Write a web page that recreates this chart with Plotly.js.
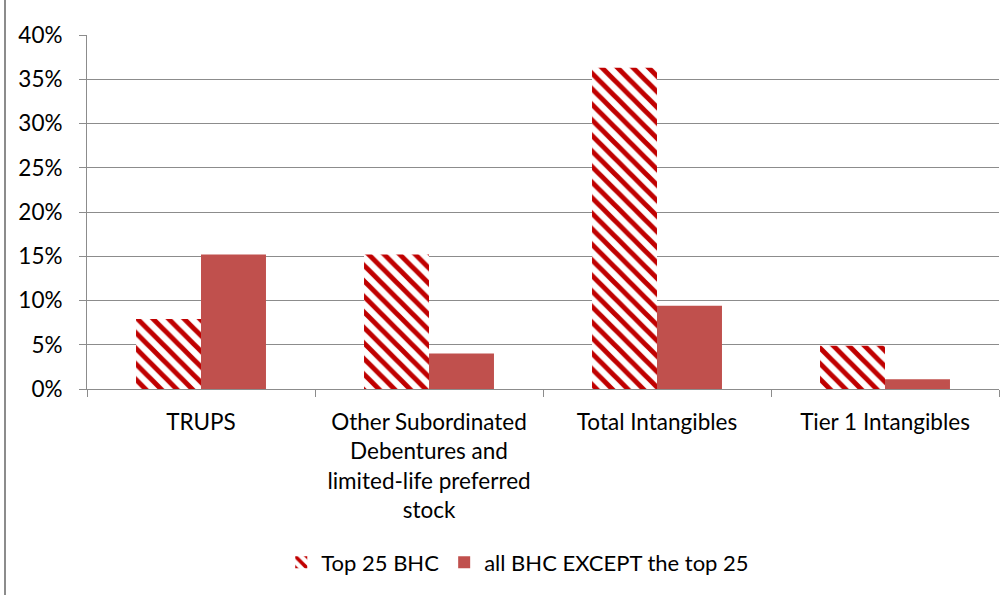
<!DOCTYPE html>
<html>
<head>
<meta charset="utf-8">
<script src="https://cdn.plot.ly/plotly-3.0.1.min.js"></script>
<style>
  html, body { margin: 0; padding: 0; background: #fff; }
  #wrap { position: relative; width: 1005px; height: 595px; }
  #chart { width: 1005px; height: 595px; }
  #frame { position: absolute; left: 4px; top: 0; width: 2px; height: 595px; background: #8c8c8c; }
</style>
</head>
<body>
<div id="wrap">
  <div id="chart"></div>
  <div id="frame"></div>
</div>
<script>
// Categories (x-axis labels, multi-line as set in the source chart)
const categories = [
  "TRUPS",
  "Other Subordinated<br>Debentures and<br>limited-life preferred<br>stock",
  "Total Intangibles",
  "Tier 1 Intangibles"
];

// Share of each capital component
const top25Name = "Top 25 BHC";
const top25Values = [0.079, 0.152, 0.363, 0.049];

const restName = "all BHC EXCEPT the top 25";
const restValues = [0.152, 0.040, 0.094, 0.011];

// Y-axis ticks
const yTickValues = [0, 0.05, 0.10, 0.15, 0.20, 0.25, 0.30, 0.35, 0.40];
const yTickLabels = ["0%", "5%", "10%", "15%", "20%", "25%", "30%", "35%", "40%"];

const FONT = "Lato, 'Open Sans', sans-serif";
const GRID = "#8c8c8c";

const traces = [
  {
    type: "bar",
    name: top25Name,
    x: categories,
    y: top25Values,
    marker: {
      color: "#ffffff",
      line: { width: 0 },
      pattern: {
        shape: "\\",
        fgcolor: "#c00000",
        bgcolor: "#ffffff",
        size: 11,
        solidity: 0.45,
        fillmode: "replace"
      }
    },
    hoverinfo: "skip"
  },
  {
    type: "bar",
    name: restName,
    x: categories,
    y: restValues,
    marker: { color: "#c0504d", line: { width: 0 } },
    hoverinfo: "skip"
  }
];

const layout = {
  width: 1005,
  height: 595,
  margin: { l: 87, r: 6, t: 35, b: 206 },
  paper_bgcolor: "#ffffff",
  plot_bgcolor: "#ffffff",
  font: { family: FONT, size: 22.5, color: "#000000" },
  barmode: "group",
  bargap: 0.43,
  bargroupgap: 0,
  showlegend: true,
  legend: {
    orientation: "h",
    x: 0.213,
    xanchor: "left",
    y: -0.49,
    yanchor: "middle",
    font: { family: FONT, size: 22, color: "#000000" },
    itemwidth: 30,
    traceorder: "normal"
  },
  xaxis: {
    type: "category",
    showgrid: false,
    showline: true,
    linecolor: GRID,
    linewidth: 1,
    ticks: "outside",
    tickson: "boundaries",
    ticklen: 7,
    tickcolor: GRID,
    tickwidth: 1,
    tickfont: { family: FONT, size: 22.5, color: "#000000" },
    ticklabelstandoff: 13,
    zeroline: false,
    fixedrange: true
  },
  yaxis: {
    range: [0, 0.40],
    tickvals: yTickValues,
    ticktext: yTickLabels,
    showgrid: true,
    gridcolor: GRID,
    gridwidth: 1,
    showline: true,
    linecolor: GRID,
    linewidth: 1,
    ticks: "outside",
    ticklen: 7,
    tickcolor: GRID,
    tickwidth: 1,
    tickfont: { family: FONT, size: 22.5, color: "#000000" },
    ticklabelstandoff: 12,
    zeroline: false,
    fixedrange: true
  }
};

Plotly.newPlot("chart", traces, layout, { displayModeBar: false, staticPlot: true });
</script>
</body>
</html>
